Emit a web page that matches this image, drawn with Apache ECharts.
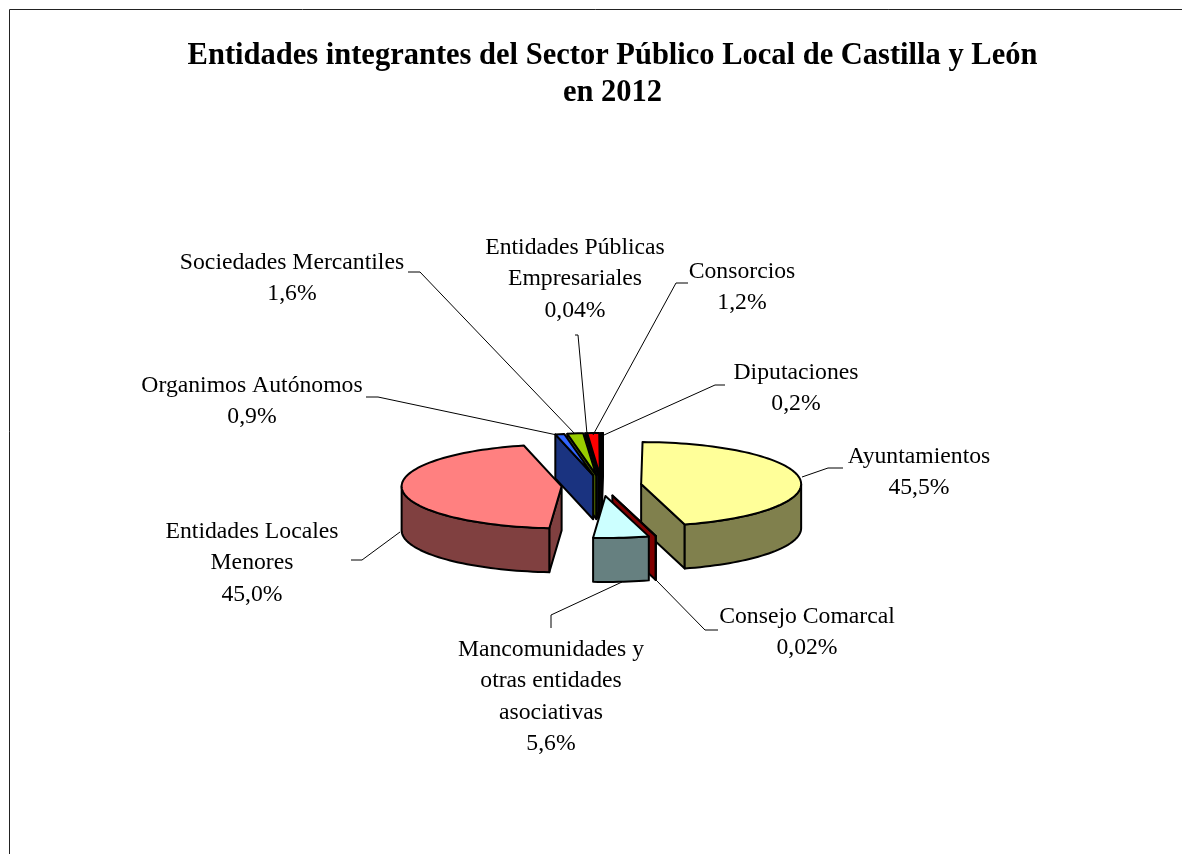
<!DOCTYPE html>
<html>
<head>
<meta charset="utf-8">
<title>Entidades integrantes del Sector Público Local</title>
<script src="https://cdn.jsdelivr.net/npm/echarts@6/dist/echarts.min.js"></script>
<style>
  html, body { margin: 0; padding: 0; background: #fff; }
  #chart { width: 1182px; height: 854px; }
</style>
</head>
<body>
<div id="chart"></div>
<script>
const titleText = "Entidades integrantes del Sector Público Local de Castilla y León\nen 2012";
const categories = ["Ayuntamientos", "Consejo Comarcal", "Mancomunidades y\notras entidades\nasociativas",
  "Entidades Locales\nMenores", "Organimos Autónomos", "Sociedades Mercantiles",
  "Entidades Públicas\nEmpresariales", "Consorcios", "Diputaciones"];
const shares = [45.5, 0.02, 5.6, 45.0, 0.9, 1.6, 0.04, 1.2, 0.2];
const shareLabels = ["45,5%", "0,02%", "5,6%", "45,0%", "0,9%", "1,6%", "0,04%", "1,2%", "0,2%"];

const topColors = ["#ffff99", "#800000", "#ccffff", "#ff8080", "#3366ff", "#99cc00", "#333399", "#ff0000", "#666666"];
const sideColors = ["#80804d", "#800000", "#668080", "#804040", "#1a3380", "#4d6600", "#1a1a4d", "#800000", "#333333"];

// pie geometry, flattened by hand to look like the excel 3d pie
const cx = 601.5, cy = 485.5, rx = 160, ry = 42, depth = 44, explode = 40, firstAngle = 0.5;

// label centre x, first line top y, then the leader line points
const labelLayout = [
  { x: 919, y: 441, line: [[843, 468], [828, 468], [802, 477]] },
  { x: 807, y: 601, line: [[718, 630], [705, 630], [656, 580]] },
  { x: 551, y: 634, line: [[551, 628], [551, 615], [622, 582]] },
  { x: 252, y: 516, line: [[351, 560], [362, 560], [400, 532]] },
  { x: 252, y: 370, line: [[366, 397], [378, 397], [557, 435]] },
  { x: 292, y: 247, line: [[408, 272], [420, 272], [575, 434]] },
  { x: 575, y: 232, line: [[575, 335], [578, 335], [587, 434]] },
  { x: 742, y: 256, line: [[688, 283], [676, 283], [593, 435]] },
  { x: 796, y: 357, line: [[725, 385], [715, 385], [604, 435]] }
];

const total = shares.reduce((a, b) => a + b, 0);
const rad = d => d * Math.PI / 180;

let running = 0;
const slices = shares.map((v, i) => {
  const start = firstAngle + echarts.number.linearMap(running, [0, total], [0, 360]);
  running += v;
  const end = firstAngle + echarts.number.linearMap(running, [0, total], [0, 360]);
  const mid = (start + end) / 2;
  return {
    i, start, end, mid,
    ax: cx + explode * Math.sin(rad(mid)),
    ay: cy - explode * Math.cos(rad(mid)) * ry / rx
  };
});

function rimPoint(s, deg, drop) {
  return [s.ax + rx * Math.sin(rad(deg)), s.ay - ry * Math.cos(rad(deg)) + drop];
}

function arcPoints(s, from, to, drop) {
  const pts = [];
  const steps = Math.max(1, Math.ceil((to - from) / 2));
  for (let k = 0; k <= steps; k++) pts.push(rimPoint(s, from + (to - from) * k / steps, drop));
  return pts;
}

function radialFace(s, deg, fill) {
  const rim = rimPoint(s, deg, 0);
  return poly([[s.ax, s.ay], rim, [rim[0], rim[1] + depth], [s.ax, s.ay + depth]], fill);
}

function poly(points, fill) {
  return { type: "polygon", shape: { points }, style: { fill, stroke: "#000", lineWidth: 2, lineJoin: "round" } };
}

function renderSlice(params, api) {
  const s = slices[api.value(0)];
  const side = sideColors[s.i], children = [];
  // walls first, the top face goes over them
  if (Math.sin(rad(s.start)) < 0) children.push(radialFace(s, s.start, side));
  if (Math.sin(rad(s.end)) > 0) children.push(radialFace(s, s.end, side));
  const from = Math.max(s.start, 90), to = Math.min(s.end, 270);
  if (to > from) {
    children.push(poly(arcPoints(s, from, to, 0).concat(arcPoints(s, from, to, depth).reverse()), side));
  }
  children.push(poly([[s.ax, s.ay]].concat(arcPoints(s, s.start, s.end, 0)), topColors[s.i]));
  return { type: "group", children };
}

function renderLabel(params, api) {
  const i = api.value(0), l = labelLayout[i];
  return {
    type: "group",
    children: [
      { type: "polyline", shape: { points: l.line }, style: { fill: "none", stroke: "#000", lineWidth: 1 } },
      {
        type: "text",
        style: {
          x: l.x, y: l.y, text: categories[i] + "\n" + shareLabels[i],
          fill: "#000", align: "center", verticalAlign: "top",
          fontFamily: "Liberation Serif", fontSize: 23.7, lineHeight: 31.5
        }
      }
    ]
  };
}

// far slices first so the near ones cover them
const drawOrder = slices.slice().sort((a, b) => Math.cos(rad(b.mid)) - Math.cos(rad(a.mid))).map(s => [s.i, shares[s.i]]);

const chart = echarts.init(document.getElementById("chart"), null, { renderer: "canvas" });
chart.setOption({
  animation: false,
  backgroundColor: "#fff",
  title: {
    text: titleText,
    left: 607.5,
    top: 33,
    textAlign: "center",
    textStyle: { fontFamily: "Liberation Serif", fontWeight: "bold", fontSize: 30.5, lineHeight: 37, color: "#000" }
  },
  graphic: [{
    type: "polyline",
    shape: { points: [[9.5, 854], [9.5, 9.5], [1182, 9.5]] },
    style: { fill: "none", stroke: "#222", lineWidth: 1 }
  }],
  series: [
    { type: "custom", coordinateSystem: "none", renderItem: renderSlice, data: drawOrder, silent: true, z: 2 },
    { type: "custom", coordinateSystem: "none", renderItem: renderLabel, data: categories.map((c, i) => [i, shares[i]]), silent: true, z: 3 }
  ]
});
</script>
</body>
</html>
